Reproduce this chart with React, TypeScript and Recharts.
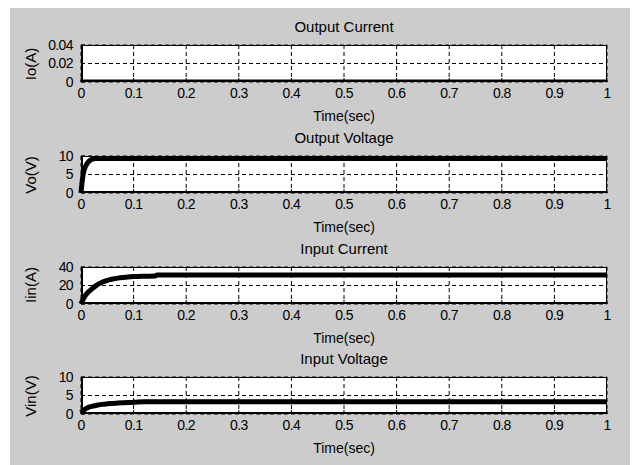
import { LineChart, Line, XAxis, YAxis, CartesianGrid } from 'recharts';

const X_TICKS = [0, 0.1, 0.2, 0.3, 0.4, 0.5, 0.6, 0.7, 0.8, 0.9, 1];

// Output Current
const ioTime = [0, 0.5, 1];
const ioValues = [0, 0, 0];
const ioTicks = [0, 0.02, 0.04];

// Output Voltage
const voTime = [0, 0.002, 0.004, 0.006, 0.008, 0.011, 0.014, 0.018, 0.022, 0.027, 0.035, 0.05, 0.1, 0.5, 1];
const voValues = [0, 2.8, 5, 6.2, 7, 7.8, 8.4, 8.9, 9.15, 9.3, 9.35, 9.35, 9.35, 9.35, 9.35];
const voTicks = [0, 5, 10];

// Input Current
const iinTime = [0, 0.003, 0.007, 0.01, 0.015, 0.02, 0.03, 0.04, 0.05, 0.06, 0.07, 0.08, 0.1, 0.12, 0.14, 0.145, 0.3, 1];
const iinValues = [0, 4, 8, 10.5, 13.5, 16, 20.5, 23.5, 25.5, 27, 28, 28.7, 29.6, 30, 30.2, 31.4, 31.4, 31.4];
const iinTicks = [0, 20, 40];

// Input Voltage
const vinTime = [0, 0.005, 0.01, 0.015, 0.02, 0.03, 0.04, 0.05, 0.07, 0.09, 0.1, 0.12, 0.3, 1];
const vinValues = [0.4, 1.0, 1.5, 1.85, 2.05, 2.35, 2.6, 2.75, 2.95, 3.1, 3.15, 3.3, 3.3, 3.3];
const vinTicks = [0, 5, 10];

const FONT = '"Liberation Sans", Arial, Helvetica, sans-serif';
const PLOT_LEFT = 71;
const PLOT_WIDTH = 526;
const PLOT_HEIGHT = 37;
const MARGIN_TOP = 12;

const toRows = (t: number[], v: number[]) => t.map((x, i) => ({ t: x, v: v[i] }));

const tickStyle = { fill: '#000', fontSize: 14, fontFamily: FONT, letterSpacing: -0.6 };

interface PanelProps {
  top: number;
  title: string;
  yLabel: string;
  time: number[];
  values: number[];
  yTicks: number[];
}

const Panel = ({ top, title, yLabel, time, values, yTicks }: PanelProps) => {
  const data = toRows(time, values);
  const yMax = yTicks[yTicks.length - 1];
  return (
    <>
      <div
        style={{
          position: 'absolute',
          left: PLOT_LEFT,
          top: top,
          width: PLOT_WIDTH,
          height: PLOT_HEIGHT,
          background: '#fff',
          boxSizing: 'border-box',
          border: '1.5px solid #000',
          borderLeftWidth: 2,
          borderBottomWidth: 2,
        }}
      />
      <div
        style={{
          position: 'absolute',
          left: PLOT_LEFT,
          width: PLOT_WIDTH,
          top: top - 27,
          textAlign: 'center',
          fontSize: 15,
          lineHeight: '18px',
          fontFamily: FONT,
        }}
      >
        {title}
      </div>
      <div
        style={{
          position: 'absolute',
          left: PLOT_LEFT,
          width: PLOT_WIDTH,
          top: top + PLOT_HEIGHT + 25,
          textAlign: 'center',
          fontSize: 14,
          lineHeight: '18px',
          fontFamily: FONT,
        }}
      >
        Time(sec)
      </div>
      <div
        style={{
          position: 'absolute',
          left: 21,
          top: top + PLOT_HEIGHT / 2,
          transform: 'translate(-50%, -50%) rotate(-90deg)',
          fontSize: 15,
          lineHeight: '18px',
          fontFamily: FONT,
          whiteSpace: 'nowrap',
        }}
      >
        {yLabel}
      </div>
      <div style={{ position: 'absolute', left: 0, top: top - MARGIN_TOP }}>
        <LineChart
          width={628}
          height={MARGIN_TOP + PLOT_HEIGHT + 26}
          data={data}
          margin={{ top: MARGIN_TOP, right: 31, left: 31, bottom: 6 }}
        >
          <CartesianGrid stroke="#000" strokeDasharray="4 3" strokeWidth={1} />
          <XAxis
            dataKey="t"
            type="number"
            domain={[0, 1]}
            ticks={X_TICKS}
            interval={0}
            height={20}
            axisLine={false}
            tickLine={{ stroke: '#000' }}
            tickSize={-4}
            tickMargin={10}
            tick={tickStyle}
          />
          <YAxis
            type="number"
            domain={[0, yMax]}
            ticks={yTicks}
            interval={0}
            width={40}
            allowDataOverflow
            axisLine={false}
            tickLine={{ stroke: '#000' }}
            tickSize={-4}
            tickMargin={12}
            tick={tickStyle}
          />
          <Line
            type="monotone"
            dataKey="v"
            stroke="#000"
            strokeWidth={5}
            dot={false}
            isAnimationActive={false}
          />
        </LineChart>
      </div>
    </>
  );
};

const PANEL_TOPS = [37, 148, 258.5, 369];

export default function App() {
  return (
    <div
      style={{
        position: 'relative',
        width: 628,
        height: 457,
        marginLeft: 2,
        background: '#cccccc',
        overflow: 'hidden',
      }}
    >
      <Panel top={PANEL_TOPS[0]} title="Output Current" yLabel="Io(A)" time={ioTime} values={ioValues} yTicks={ioTicks} />
      <Panel top={PANEL_TOPS[1]} title="Output Voltage" yLabel="Vo(V)" time={voTime} values={voValues} yTicks={voTicks} />
      <Panel top={PANEL_TOPS[2]} title="Input Current" yLabel="Iin(A)" time={iinTime} values={iinValues} yTicks={iinTicks} />
      <Panel top={PANEL_TOPS[3]} title="Input Voltage" yLabel="Vin(V)" time={vinTime} values={vinValues} yTicks={vinTicks} />
    </div>
  );
}
